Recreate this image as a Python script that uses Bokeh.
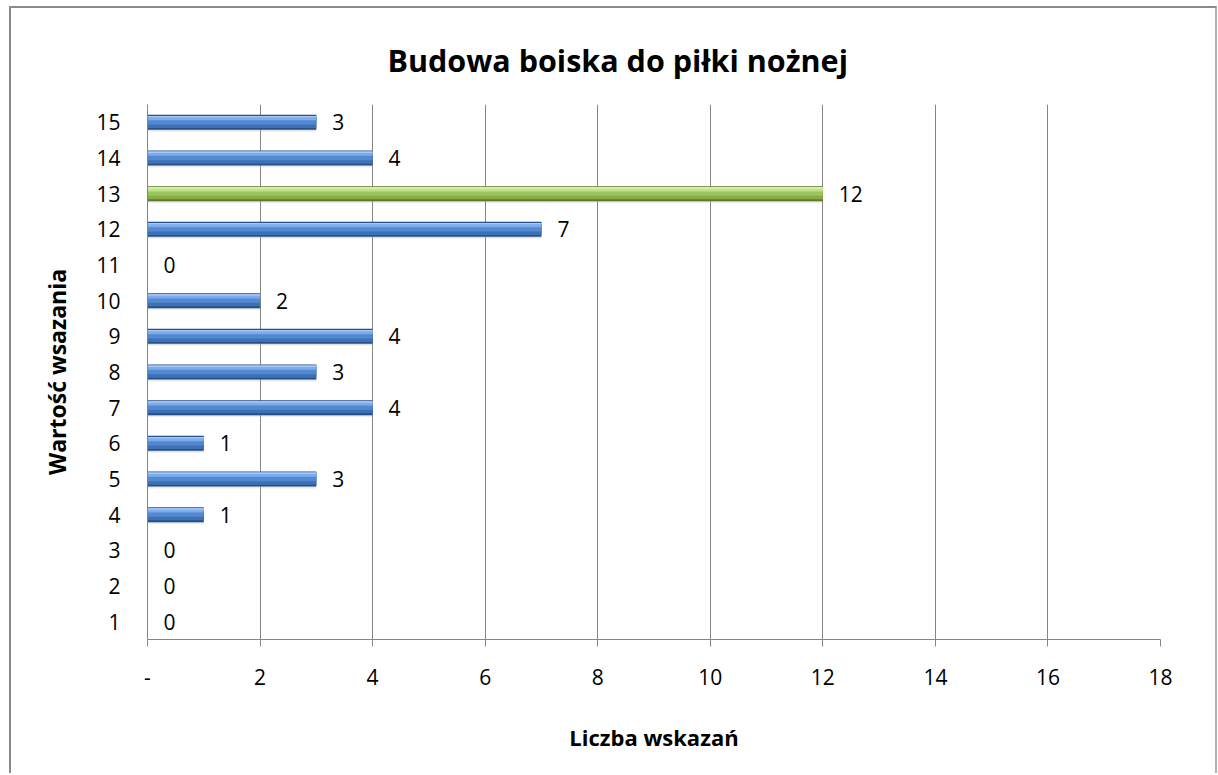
from bokeh.plotting import figure
from bokeh.models import FixedTicker, ColumnDataSource, Range1d
from bokeh.layouts import column
from bokeh.transform import dodge
from bokeh.core.properties import value
from bokeh.embed import file_html
from bokeh.resources import INLINE

# ---- data ----
categories = list(range(1, 16))
counts = [0, 0, 0, 1, 3, 1, 4, 3, 4, 2, 0, 7, 12, 4, 3]
highlight_category = 13
x_ticks = [0, 2, 4, 6, 8, 10, 12, 14, 16, 18]
x_tick_labels = {0: "-"}
title_text = "Budowa boiska do piłki nożnej"
x_label = "Liczba wskazań"
y_label = "Wartość wsazania"

FONT = "Open Sans"
GRID = "#868686"

def pick(green, blue):
    return [green if c == highlight_category else blue for c in categories]

c_base = pick("#5f7a2c", "#24508c")
c_a = pick("#86ad48", "#3d70b4")
c_b = pick("#9cc45c", "#5289d0")
c_c = pick("#bfe287", "#7cacec")
c_d = pick("#def3b6", "#a9c9f5")

src = ColumnDataSource(dict(y=categories, v=counts, lbl=[str(c) for c in counts],
                            c_base=c_base, c_a=c_a, c_b=c_b, c_c=c_c, c_d=c_d))

p = figure(width=1204, height=765, output_backend="svg", toolbar_location=None,
           x_range=Range1d(0, 18), y_range=Range1d(0.5, 15.5),
           min_border_left=136, min_border_right=55, min_border_top=96,
           min_border_bottom=134)
p.outline_line_color = None
p.background_fill_color = "white"
p.border_fill_color = "white"

# title
p.title.text = title_text
p.title.align = "left"
p.title.offset = 240
p.title.text_font = FONT
p.title.text_font_size = "30.5px"
p.title.text_font_style = "bold"
p.title.text_color = "black"
p.title.standoff = 47

# grid
p.xgrid.ticker = FixedTicker(ticks=x_ticks)
p.xgrid.grid_line_color = GRID
p.xgrid.grid_line_width = 1
p.ygrid.grid_line_color = None

# shadows
p.hbar(y=dodge("y", -0.17), left=0, right="v", height=0.14, source=src,
       fill_color="#9a9a9a", fill_alpha=0.22, line_color=None)
p.hbar(y=dodge("y", -0.22), left=0, right="v", height=0.1, source=src,
       fill_color="#bdbdbd", fill_alpha=0.18, line_color=None)
# bars (bevelled look)
p.hbar(y="y", left=0, right="v", height=0.42, source=src,
       fill_color="c_base", line_color=None)
p.hbar(y=dodge("y", 0.01), left=0, right="v", height=0.34, source=src,
       fill_color="c_a", line_color=None)
p.hbar(y=dodge("y", 0.06), left=0, right="v", height=0.24, source=src,
       fill_color="c_b", line_color=None)
p.hbar(y=dodge("y", 0.12), left=0, right="v", height=0.12, source=src,
       fill_color="c_c", line_color=None)
p.hbar(y=dodge("y", 0.16), left=0, right="v", height=0.04, source=src,
       fill_color="c_d", line_color=None)

# value labels
p.text(x="v", y="y", text="lbl", source=src, x_offset=16,
       text_align="left", text_baseline="middle",
       text_font=value(FONT), text_font_size="21px", text_color="black")

# x axis
xa = p.xaxis[0]
xa.ticker = FixedTicker(ticks=x_ticks)
xa.major_label_overrides = x_tick_labels
xa.axis_line_color = GRID
xa.major_tick_line_color = GRID
xa.major_tick_in = 0
xa.major_tick_out = 7
xa.minor_tick_line_color = None
xa.major_label_standoff = 22
xa.major_label_text_font = FONT
xa.major_label_text_font_size = "21px"
xa.major_label_text_color = "black"
xa.axis_label = x_label
xa.axis_label_text_font = FONT
xa.axis_label_text_font_size = "22px"
xa.axis_label_text_font_style = "bold"
xa.axis_label_text_color = "black"
xa.axis_label_standoff = 34

# y axis
ya = p.yaxis[0]
ya.ticker = FixedTicker(ticks=categories)
ya.axis_line_color = GRID
ya.major_tick_line_color = None
ya.minor_tick_line_color = None
ya.major_label_standoff = 21
ya.major_label_text_font = FONT
ya.major_label_text_font_size = "21px"
ya.major_label_text_color = "black"
ya.axis_label = y_label
ya.axis_label_text_font = FONT
ya.axis_label_text_font_size = "23px"
ya.axis_label_text_font_style = "bold"
ya.axis_label_text_color = "black"
ya.axis_label_standoff = 20

layout = column(p, styles={"margin-left": "9px", "margin-top": "6px",
                           "border-left": "2px solid #8a8a8a",
                           "border-top": "2px solid #8a8a8a",
                           "border-right": "2px solid #b0b0b0"})

open("out.html", "w").write(file_html(layout, INLINE))
